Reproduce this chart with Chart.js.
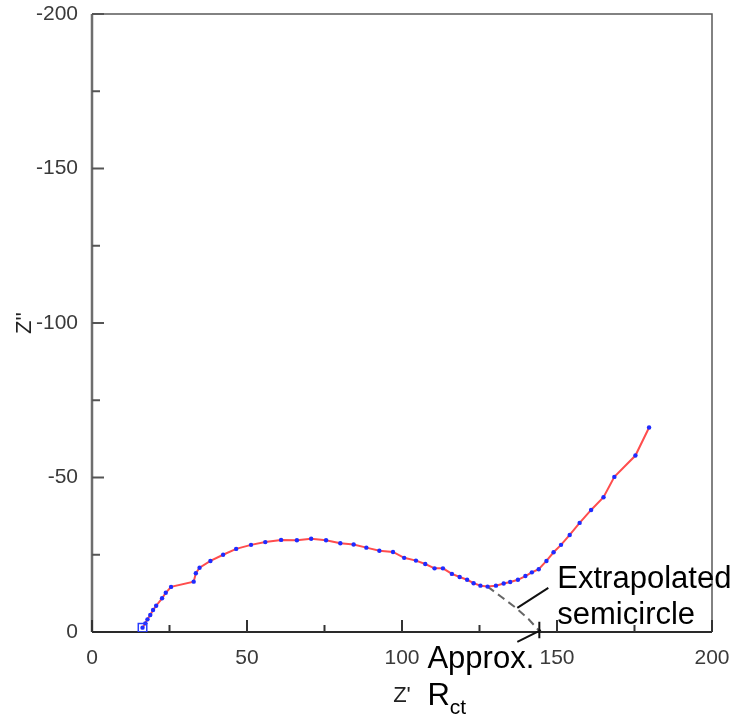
<!DOCTYPE html>
<html>
<head>
<meta charset="utf-8">
<script src="https://cdn.jsdelivr.net/npm/chart.js@4.4.1/dist/chart.umd.min.js"></script>
<style>
  html, body { margin: 0; padding: 0; background: #fff; }
  canvas { display: block; }
</style>
</head>
<body>
<canvas id="nyquist" width="755" height="718"></canvas>
<script>
// --- DATOS ---
const zReal = [16.3, 17.2, 17.9, 18.8, 19.7, 20.7, 22.6, 23.8, 25.5, 32.8, 33.5, 34.7,
    38.2, 42.3, 46.5, 51.3, 55.9, 61.0, 66.1, 70.7, 75.5, 80.1, 84.4, 88.5, 92.7, 97.1,
    100.7, 104.5, 107.5, 110.5, 113.2, 116.1, 118.6, 121.0, 123.1, 125.3, 127.6, 130.3,
    132.8, 134.9, 137.4, 139.8, 141.9, 144.1, 146.6, 148.9, 151.3, 154.1, 157.3, 161.0,
    165.0, 168.5, 175.3, 179.7];
const zImag = [-1.4, -2.8, -4.1, -5.5, -7.1, -8.5, -10.9, -12.7, -14.6, -16.3, -19.0, -20.8,
    -23.0, -25.0, -26.9, -28.2, -29.1, -29.8, -29.7, -30.2, -29.7, -28.7, -28.3, -27.3, -26.3, -25.9,
    -24.0, -23.1, -22.0, -20.6, -20.6, -18.8, -17.8, -16.9, -15.8, -15.0, -14.7, -15.0,
    -15.7, -16.2, -16.9, -18.1, -19.3, -20.3, -23.0, -25.8, -28.2, -31.4, -35.3, -39.5,
    -43.6, -50.2, -57.1, -66.2];

// semicírculo extrapolado (línea discontinua)
const extrapReal = [127.6, 132.0, 136.9, 140.8, 144.6];
const extrapImag = [-14.7, -11.4, -7.7, -4.2, 0];

// marcador del primer punto
const startReal = [16.3];
const startImag = [-1.4];

// ejes
const xTicks = [0, 50, 100, 150, 200];
const yTicks = [0, -50, -100, -150, -200];
const xMinorTicks = [25, 75, 125, 175];
const yMinorTicks = [-25, -75, -125, -175];

// anotaciones (en unidades de datos)
const rctValue = 144.3;
const semicircleLabel = ['Extrapolated', 'semicircle'];
const rctLabel = 'Approx.';

const FONT = '"Liberation Sans", Arial, sans-serif';

const toPoints = (xs, ys) => xs.map((v, i) => ({ x: v, y: ys[i] }));

// --- PLUGIN: marco y marcas de graduación hacia dentro ---
const framePlugin = {
    id: 'frame',
    beforeDatasetsDraw(chart) {
        const { ctx, chartArea: a, scales: { x, y } } = chart;
        ctx.save();
        ctx.lineCap = 'butt';

        // borde superior y derecho
        ctx.strokeStyle = '#5a5a5a';
        ctx.lineWidth = 1.5;
        ctx.beginPath();
        ctx.moveTo(a.left, a.top);
        ctx.lineTo(a.right, a.top);
        ctx.lineTo(a.right, a.bottom);
        ctx.stroke();

        // eje izquierdo
        ctx.strokeStyle = '#6e6e6e';
        ctx.lineWidth = 2.5;
        ctx.beginPath();
        ctx.moveTo(a.left, a.top);
        ctx.lineTo(a.left, a.bottom);
        ctx.stroke();

        // marcas eje Y
        ctx.strokeStyle = '#555';
        ctx.lineWidth = 2;
        yTicks.forEach(v => {
            const py = y.getPixelForValue(v);
            ctx.beginPath(); ctx.moveTo(a.left, py); ctx.lineTo(a.left + 12, py); ctx.stroke();
        });
        yMinorTicks.forEach(v => {
            const py = y.getPixelForValue(v);
            ctx.beginPath(); ctx.moveTo(a.left, py); ctx.lineTo(a.left + 8, py); ctx.stroke();
        });

        // eje inferior
        ctx.strokeStyle = '#2a2a2a';
        ctx.lineWidth = 2;
        ctx.beginPath();
        ctx.moveTo(a.left, a.bottom);
        ctx.lineTo(a.right, a.bottom);
        ctx.stroke();

        // marcas eje X
        ctx.strokeStyle = '#333';
        xTicks.forEach(v => {
            const px = x.getPixelForValue(v);
            ctx.beginPath(); ctx.moveTo(px, a.bottom); ctx.lineTo(px, a.bottom - 12); ctx.stroke();
        });
        xMinorTicks.forEach(v => {
            const px = x.getPixelForValue(v);
            ctx.beginPath(); ctx.moveTo(px, a.bottom); ctx.lineTo(px, a.bottom - 7); ctx.stroke();
        });
        ctx.restore();
    }
};

// --- PLUGIN: textos y flechas de anotación ---
const annotationPlugin = {
    id: 'annotations',
    afterDraw(chart) {
        const { ctx, scales: { x, y } } = chart;
        const X = v => x.getPixelForValue(v);
        const Y = v => y.getPixelForValue(v);
        ctx.save();

        ctx.strokeStyle = '#111';
        ctx.lineWidth = 2;
        ctx.beginPath();
        // puntero hacia la línea discontinua
        ctx.moveTo(X(147.2), Y(-14.3));
        ctx.lineTo(X(137.2), Y(-7.8));
        // puntero hacia Rct
        ctx.moveTo(X(137.2), Y(3.2));
        ctx.lineTo(X(rctValue + 0.5), Y(-0.6));
        // marca vertical en Rct
        ctx.moveTo(X(rctValue), Y(-3.3));
        ctx.lineTo(X(rctValue), Y(2.0));
        ctx.stroke();

        ctx.fillStyle = '#000';
        ctx.textAlign = 'left';
        ctx.textBaseline = 'alphabetic';
        ctx.font = '31px ' + FONT;
        ctx.fillText(semicircleLabel[0], X(150.1), Y(-14.3));
        ctx.fillText(semicircleLabel[1], X(150.1), Y(-2.6));
        ctx.fillText(rctLabel, X(108.2), Y(11.7));
        const rX = X(108.2), rY = Y(23.7);
        ctx.fillText('R', rX, rY);
        const rW = ctx.measureText('R').width;
        ctx.font = '21px ' + FONT;
        ctx.fillText('ct', rX + rW, rY + 9);
        ctx.restore();
    }
};

// --- GRÁFICO ---
new Chart(document.getElementById('nyquist'), {
    type: 'scatter',
    data: {
        datasets: [
            {
                data: toPoints(zReal, zImag),
                showLine: true,
                borderColor: '#ff4d4d',
                borderWidth: 2,
                pointRadius: 2.2,
                pointBackgroundColor: '#1f2bff',
                pointBorderWidth: 0,
                order: 2
            },
            {
                data: toPoints(extrapReal, extrapImag),
                showLine: true,
                borderColor: '#666',
                borderWidth: 2,
                borderDash: [8, 5],
                pointRadius: 0,
                order: 3
            },
            {
                data: toPoints(startReal, startImag),
                pointStyle: 'rect',
                pointRadius: 6,
                pointBackgroundColor: 'rgba(0,0,0,0)',
                pointBorderColor: '#2a3cff',
                pointBorderWidth: 1.5,
                order: 1
            }
        ]
    },
    options: {
        responsive: false,
        animation: false,
        layout: { padding: { top: 14, right: 43, left: 0, bottom: 0 } },
        plugins: { legend: { display: false }, tooltip: { enabled: false } },
        scales: {
            x: {
                type: 'linear',
                min: 0,
                max: 200,
                afterBuildTicks: s => { s.ticks = xTicks.map(v => ({ value: v })); },
                afterFit: s => { s.height = 86; s.paddingLeft = 0; s.paddingRight = 0; },
                grid: { display: false, drawTicks: false },
                border: { display: false },
                ticks: { padding: 14, color: '#3a3a3a', font: { family: FONT, size: 21 } },
                title: { display: true, text: "Z'", color: '#222', padding: { top: 0, bottom: 9 },
                         font: { family: FONT, size: 22 } }
            },
            y: {
                type: 'linear',
                min: -200,
                max: 0,
                reverse: true,
                afterBuildTicks: s => { s.ticks = yTicks.map(v => ({ value: v })); },
                afterFit: s => { s.width = 92; s.paddingTop = 0; s.paddingBottom = 0; },
                grid: { display: false, drawTicks: false },
                border: { display: false },
                ticks: { padding: 14, color: '#3a3a3a', font: { family: FONT, size: 21 } },
                title: { display: true, text: "Z''", color: '#222', padding: { top: 12, bottom: 0 },
                         font: { family: FONT, size: 22 } }
            }
        }
    },
    plugins: [framePlugin, annotationPlugin]
});
</script>
</body>
</html>
